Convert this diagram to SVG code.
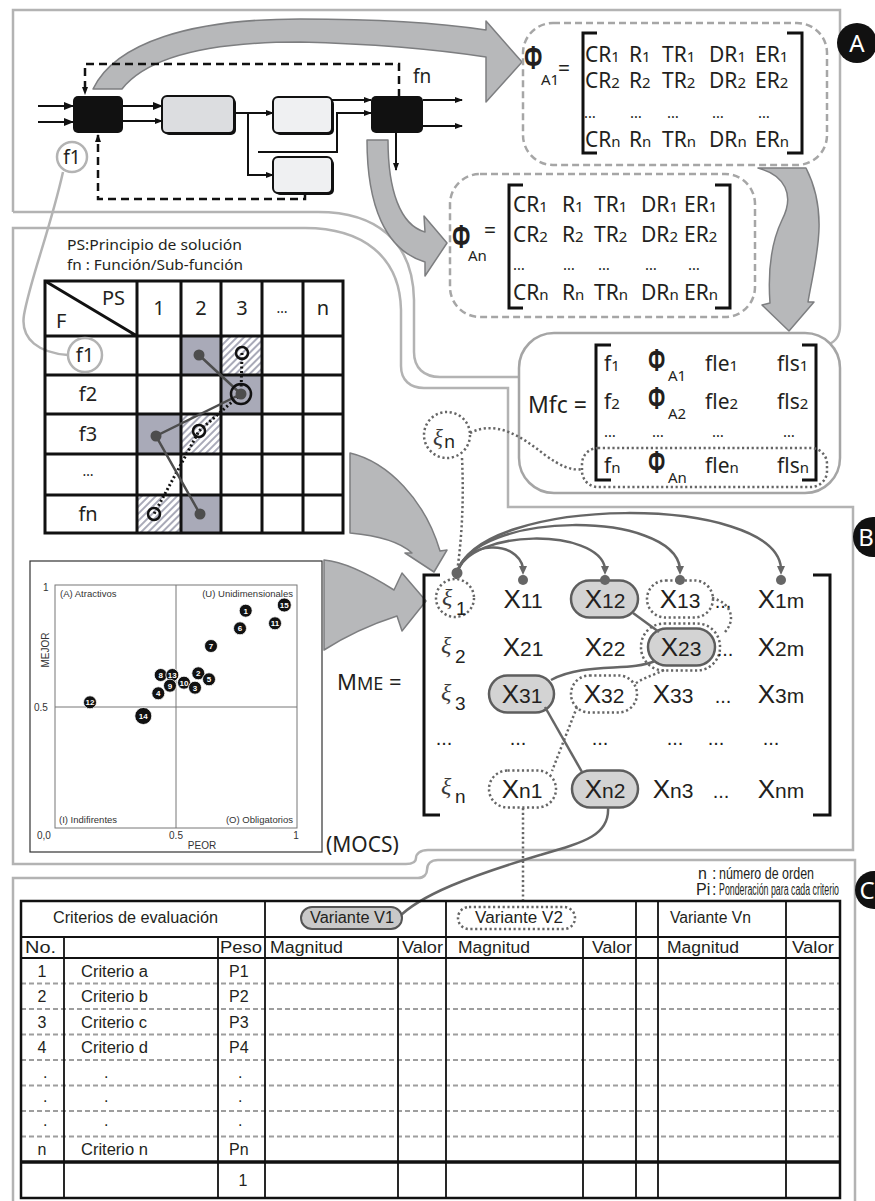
<svg xmlns="http://www.w3.org/2000/svg" width="875" height="1201" viewBox="0 0 875 1201">
<defs>
<style>
.frame{fill:none;stroke:#b3b3b3;stroke-width:2.5}
.dbox{fill:#fff;stroke:#a6a6a6;stroke-width:2.5;stroke-dasharray:7 4}
.dot{fill:none;stroke:#666;stroke-width:2.5;stroke-dasharray:2.2 2.6}
.big{fill:#b7b8ba;stroke:#7d7e80;stroke-width:1.5;stroke-linejoin:round}
.t{font-family:'Noto Sans','Open Sans',sans-serif;fill:#231f20}
.a{font-family:'Liberation Sans',Arial,sans-serif;fill:#231f20}
.s{font-family:'Liberation Serif','DejaVu Serif',serif;font-style:italic;fill:#3a3a3a}
.br{fill:none;stroke:#111;stroke-width:3}
.ln{fill:none;stroke:#111;stroke-width:2}
.ds{fill:none;stroke:#111;stroke-width:2.5;stroke-dasharray:8 5}
.pill{fill:#d3d3d3;stroke:#5e5e5e;stroke-width:2.5}
.grid{stroke:#111;stroke-width:3;fill:none}
.tb{font-family:'Liberation Sans',Arial,sans-serif;fill:#231f20;font-size:16px}
.sp{font-family:'Liberation Sans',Arial,sans-serif;fill:#333;font-size:9.5px}
.pt circle{fill:#111;stroke:#fff;stroke-width:0.8}
.pt text{font-family:'Liberation Sans',Arial,sans-serif;font-size:8px;font-weight:bold;fill:#fff;text-anchor:middle}
.lab circle{fill:#111}
.lab text{font-family:'Noto Sans',sans-serif;font-size:24px;fill:#fff;text-anchor:middle}
.m{font-size:21px}
.sub{font-size:15px}
</style>
<marker id="ah" viewBox="0 0 10 8" refX="9" refY="4" markerWidth="10" markerHeight="8" markerUnits="userSpaceOnUse" orient="auto"><path d="M0,0 L10,4 L0,8 Z" fill="#111"/></marker>
<marker id="as" viewBox="0 0 8 6" refX="7" refY="3" markerWidth="8" markerHeight="6" markerUnits="userSpaceOnUse" orient="auto"><path d="M0,0 L8,3 L0,6 Z" fill="#111"/></marker>
<pattern id="hatch" width="5" height="5" patternUnits="userSpaceOnUse" patternTransform="rotate(45)"><rect width="5" height="5" fill="#fff"/><line x1="1" y1="0" x2="1" y2="5" stroke="#a9aab8" stroke-width="2"/></pattern>
</defs>
<rect width="875" height="1201" fill="#fff"/>

<!-- panel frames -->
<g id="frames">
<path class="frame" d="M13,212 L13,10 L840,10 L840,325 C840,336 836,341 828,345"/>
<path class="frame" d="M13,212 L318,212 C375,212 413,240 414,300 L414,352 C414,368 424,377 440,377 L519,377"/>
<path class="frame" d="M13,864 L13,228 L305,228 C362,228 400,256 401,310 L401,366 C401,380 410,388 424,388 L508,388 L508,507 L853,507 L853,850 L428,850 C420,850 416,854 416,858 C416,862 412,864 406,864 Z"/>
<path class="frame" d="M13,1201 L13,878 L418,878 C424,878 427,874 427,870 C427,864 431,860 438,860 L855,860 L855,1201"/>
</g>

<!-- big gray arrows -->
<g id="bigarrows">
<path class="big" d="M93,89 C115,43 190,19 300,19 C380,19 440,23 486,30 L486,21 L522,62 L486,102 L486,57 C440,50 380,44 300,42 C200,42 145,60 122,89 Z"/>
<path class="big" d="M367,140 C367,205 385,250 425,262 L425,276 L447,243 L424,216 L425,232 C400,225 388,190 388,140 Z"/>
<path class="big" d="M758,168 C785,175 795,195 782,220 C770,245 768,275 770,303 L762,305 L789,331 L814,302 L808,302 C815,260 830,215 806,168 Z"/>
<path class="big" d="M350,453 C388,462 425,500 440,551 L447,550 L434,572 L405,553 L412,553 C398,540 372,535 350,533 Z"/>
<path class="big" d="M324,560 C347,562 372,576 394,590 L402,573 L426,601 L402,631 L397,616 C372,624 346,636 324,650 Z"/>
</g>

<!-- block diagram -->
<g id="blockdiagram">
<g id="blk1"><rect x="73" y="96" width="50" height="37" rx="5" fill="#111"/></g>
<g id="blk2"><rect x="164" y="98" width="72" height="37" rx="5" fill="#111"/><rect x="162" y="96" width="72" height="37" rx="5" fill="#dcdde0" stroke="#111" stroke-width="2"/></g>
<g id="blk3"><rect x="275" y="99" width="59" height="36" rx="5" fill="#111"/><rect x="273" y="97" width="59" height="36" rx="5" fill="#eff0f2" stroke="#111" stroke-width="2"/></g>
<g id="blk5"><rect x="275" y="159" width="59" height="36" rx="5" fill="#111"/><rect x="273" y="157" width="59" height="36" rx="5" fill="#eff0f2" stroke="#111" stroke-width="2"/></g>
<g id="blk4"><rect x="371" y="96" width="52" height="37" rx="5" fill="#111"/></g>
<text class="t" x="413" y="83" font-size="19">fn</text>
</g>
<g id="bd-connectors">
<path class="ln" stroke-width="3" d="M38,106 H73" marker-end="url(#ah)"/>
<path class="ln" stroke-width="3" d="M38,122 H73" marker-end="url(#ah)"/>
<path class="ln" stroke-width="3" d="M123,106 H162" marker-end="url(#ah)"/>
<path class="ln" d="M123,121 H162" marker-end="url(#as)"/>
<path class="ln" d="M234,113 H273" marker-end="url(#as)"/>
<path class="ln" d="M248,113 V175 H273" marker-end="url(#as)"/>
<path class="ln" d="M332,100 H371" marker-end="url(#as)"/>
<path class="ln" stroke-width="2.5" d="M258,152 H337 V113 H371" marker-end="url(#as)"/>
<path class="ln" d="M423,100 H462" marker-end="url(#as)"/>
<path class="ln" d="M423,126 H462" marker-end="url(#as)"/>
<path class="ln" d="M396,133 V170" marker-end="url(#as)"/>
<path class="ds" d="M399,97 V64 H85 V94" marker-end="url(#as)"/>
<path class="ds" d="M305,193 V199 H98 V135" marker-end="url(#as)"/>
</g>

<!-- f1 link -->
<g id="f1link">
<circle cx="72" cy="157" r="15" fill="#fff" stroke="#b3b3b3" stroke-width="2.5"/>
<text class="t" x="72" y="164" font-size="19" text-anchor="middle">f1</text>
<path class="frame" d="M63,172 C50,230 30,280 24,315 C20,340 40,353 68,355"/>
</g>

<!-- phi A1 -->
<g id="phiA1">
<rect class="dbox" x="523" y="23" width="304" height="142" rx="30"/>
<text class="t" transform="translate(524,69) scale(0.62,1)" font-size="33" font-weight="bold">Φ</text>
<text class="t" x="541" y="85" font-size="15">A1</text>
<text class="t" x="558" y="76" font-size="21">=</text>
<path class="br" d="M597,33 H583 V153 H597"/>
<path class="br" d="M787,33 H802 V153 H787"/>
<g class="t m">
<text x="585" y="62">CR<tspan class="sub">1</tspan></text><text x="629" y="62">R<tspan class="sub">1</tspan></text><text x="662" y="62">TR<tspan class="sub">1</tspan></text><text x="709" y="62">DR<tspan class="sub">1</tspan></text><text x="755" y="62">ER<tspan class="sub">1</tspan></text>
<text x="585" y="88">CR<tspan class="sub">2</tspan></text><text x="629" y="88">R<tspan class="sub">2</tspan></text><text x="662" y="88">TR<tspan class="sub">2</tspan></text><text x="709" y="88">DR<tspan class="sub">2</tspan></text><text x="755" y="88">ER<tspan class="sub">2</tspan></text>
<text x="584" y="118" font-size="15">…</text><text x="630" y="118" font-size="15">…</text><text x="667" y="118" font-size="15">…</text><text x="712" y="118" font-size="15">…</text><text x="758" y="118" font-size="15">…</text>
<text x="585" y="147">CR<tspan class="sub">n</tspan></text><text x="629" y="147">R<tspan class="sub">n</tspan></text><text x="662" y="147">TR<tspan class="sub">n</tspan></text><text x="709" y="147">DR<tspan class="sub">n</tspan></text><text x="755" y="147">ER<tspan class="sub">n</tspan></text>
</g>
</g>

<!-- phi An -->
<g id="phiAn">
<rect class="dbox" x="450" y="174" width="305" height="143" rx="30"/>
<text class="t" transform="translate(452,248) scale(0.62,1)" font-size="33" font-weight="bold">Φ</text>
<text class="t" x="468" y="261" font-size="15">An</text>
<text class="t" x="484" y="238" font-size="21">=</text>
<path class="br" d="M523,185 H509 V308 H523"/>
<path class="br" d="M715,185 H730 V308 H715"/>
<g class="t m">
<text x="513" y="212">CR<tspan class="sub">1</tspan></text><text x="562" y="212">R<tspan class="sub">1</tspan></text><text x="594" y="212">TR<tspan class="sub">1</tspan></text><text x="641" y="212">DR<tspan class="sub">1</tspan></text><text x="684" y="212">ER<tspan class="sub">1</tspan></text>
<text x="513" y="242">CR<tspan class="sub">2</tspan></text><text x="562" y="242">R<tspan class="sub">2</tspan></text><text x="594" y="242">TR<tspan class="sub">2</tspan></text><text x="641" y="242">DR<tspan class="sub">2</tspan></text><text x="684" y="242">ER<tspan class="sub">2</tspan></text>
<text x="513" y="270" font-size="15">…</text><text x="563" y="270" font-size="15">…</text><text x="598" y="270" font-size="15">…</text><text x="645" y="270" font-size="15">…</text><text x="688" y="270" font-size="15">…</text>
<text x="513" y="300">CR<tspan class="sub">n</tspan></text><text x="562" y="300">R<tspan class="sub">n</tspan></text><text x="594" y="300">TR<tspan class="sub">n</tspan></text><text x="641" y="300">DR<tspan class="sub">n</tspan></text><text x="684" y="300">ER<tspan class="sub">n</tspan></text>
</g>
</g>

<!-- Mfc -->
<g id="mfc">
<rect x="519" y="333" width="321" height="160" rx="35" fill="#fff" stroke="#a5a5a5" stroke-width="2.5"/>
<text class="t" x="528" y="413" font-size="23">Mfc =</text>
<path class="br" d="M611,345 H596 V480 H611"/>
<path class="br" d="M802,345 H816 V480 H802"/>
<rect class="dot" x="582" y="448" width="245" height="39" rx="16"/>
<g class="t m">
<text x="604" y="371">f<tspan class="sub">1</tspan></text><text x="705" y="371">fle<tspan class="sub">1</tspan></text><text x="777" y="371">fls<tspan class="sub">1</tspan></text>
<text x="604" y="409">f<tspan class="sub">2</tspan></text><text x="705" y="409">fle<tspan class="sub">2</tspan></text><text x="777" y="409">fls<tspan class="sub">2</tspan></text>
<text x="604" y="437" font-size="15">…</text><text x="652" y="437" font-size="15">…</text><text x="712" y="437" font-size="15">…</text><text x="783" y="437" font-size="15">…</text>
<text x="604" y="473">f<tspan class="sub">n</tspan></text><text x="705" y="473">fle<tspan class="sub">n</tspan></text><text x="777" y="473">fls<tspan class="sub">n</tspan></text>
</g>
<text class="t" transform="translate(648,371) scale(0.62,1)" font-size="31" font-weight="bold">Φ</text>
<text class="t" x="668" y="381" font-size="15">A1</text>
<text class="t" transform="translate(648,409) scale(0.62,1)" font-size="31" font-weight="bold">Φ</text>
<text class="t" x="668" y="419" font-size="15">A2</text>
<text class="t" transform="translate(648,473) scale(0.62,1)" font-size="31" font-weight="bold">Φ</text>
<text class="t" x="668" y="483" font-size="15">An</text>
</g>

<!-- xi n -->
<g id="xin">
<circle class="dot" cx="447" cy="435" r="23"/>
<text class="s" x="433" y="445" font-size="23">ξ</text>
<text class="t" x="444" y="448" font-size="18">n</text>
</g>

<!-- PS table -->
<g id="pstable">
<text class="t" x="67" y="250" font-size="15" textLength="175" lengthAdjust="spacingAndGlyphs">PS:Principio de solución</text>
<text class="t" x="67" y="270" font-size="15" textLength="176" lengthAdjust="spacingAndGlyphs">fn : Función/Sub-función</text>
<rect x="181" y="336" width="40" height="39" fill="#a9aab8"/>
<rect x="221" y="375" width="41" height="39" fill="#a9aab8"/>
<rect x="137" y="414" width="44" height="40" fill="#a9aab8"/>
<rect x="181" y="495" width="40" height="38" fill="#a9aab8"/>
<rect x="221" y="336" width="41" height="39" fill="url(#hatch)"/>
<rect x="181" y="414" width="40" height="40" fill="url(#hatch)"/>
<rect x="137" y="495" width="44" height="38" fill="url(#hatch)"/>
<rect class="grid" x="45" y="281" width="298" height="252"/>
<path class="grid" d="M137,281 V533 M181,281 V533 M221,281 V533 M262,281 V533 M303,281 V533 M45,336 H343 M45,375 H343 M45,414 H343 M45,454 H343 M45,495 H343 M45,281 L137,336"/>
<g class="t" font-size="20">
<text x="102" y="305">PS</text><text x="56" y="328">F</text>
<text x="159" y="315" text-anchor="middle">1</text><text x="201" y="315" text-anchor="middle">2</text><text x="242" y="315" text-anchor="middle">3</text><text x="282" y="313" text-anchor="middle" font-size="14">…</text><text x="323" y="315" text-anchor="middle">n</text>
<text x="85" y="362" text-anchor="middle">f1</text><text x="88" y="401" text-anchor="middle">f2</text><text x="88" y="441" text-anchor="middle">f3</text><text x="88" y="476" text-anchor="middle" font-size="14">…</text><text x="88" y="521" text-anchor="middle">fn</text>
</g>
<circle cx="85" cy="355" r="17" fill="none" stroke="#b3b3b3" stroke-width="2.5"/>
<path d="M242,353 L241,394 L199,431 L154,514" fill="none" stroke="#111" stroke-width="3" stroke-dasharray="2 2.5"/>
<path d="M199,355 L241,394 L156,436 L200,514" fill="none" stroke="#4d4d4d" stroke-width="2.5"/>
<g fill="#4d4d4d"><circle cx="199" cy="355" r="5.5"/><circle cx="241" cy="394" r="5.5"/><circle cx="156" cy="436" r="5.5"/><circle cx="200" cy="514" r="5.5"/></g>
<g fill="none" stroke="#111" stroke-width="2.5"><circle cx="242" cy="353" r="6"/><circle cx="241" cy="394" r="10"/><circle cx="199" cy="431" r="6"/><circle cx="154" cy="514" r="6"/></g>
</g>

<!-- scatter -->
<g id="scatter">
<rect x="30" y="561" width="292" height="291" fill="#fff" stroke="#333" stroke-width="1.2"/>
<rect x="55" y="585" width="242" height="243" fill="none" stroke="#777" stroke-width="1"/>
<path d="M176,585 V828 M55,707 H297" stroke="#777" stroke-width="1"/>
<g class="sp">
<text x="60" y="597">(A) Atractivos</text>
<text x="293" y="597" text-anchor="end">(U) Unidimensionales</text>
<text x="59" y="823">(I) Indifirentes</text>
<text x="293" y="823" text-anchor="end">(O) Obligatorios</text>
<text x="43" y="591" font-size="10">1</text>
<text x="34" y="711" font-size="10">0.5</text>
<text x="37" y="839" font-size="10">0,0</text>
<text x="176" y="839" font-size="10" text-anchor="middle">0.5</text>
<text x="296" y="839" font-size="10" text-anchor="middle">1</text>
<text x="202" y="849" font-size="10" text-anchor="middle">PEOR</text>
<text transform="translate(49,650) rotate(-90)" font-size="10" text-anchor="middle">MEJOR</text>
</g>
<g class="pt">
<circle cx="245.7" cy="610.7" r="6.5"/><text x="245.7" y="613.5">1</text>
<circle cx="284.3" cy="605" r="7"/><text x="284.3" y="607.8">15</text>
<circle cx="240" cy="628.3" r="6.5"/><text x="240" y="631.1">6</text>
<circle cx="275" cy="623.3" r="6.5"/><text x="275" y="626.1">11</text>
<circle cx="211" cy="646" r="6.5"/><text x="211" y="648.8">7</text>
<circle cx="158.3" cy="693.3" r="6.5"/><text x="158.3" y="696.1">4</text>
<circle cx="160.7" cy="675" r="6.5"/><text x="160.7" y="677.8">8</text>
<circle cx="172.3" cy="675" r="6.5"/><text x="172.3" y="677.8">13</text>
<circle cx="170" cy="685.7" r="6.5"/><text x="170" y="688.5">9</text>
<circle cx="198.3" cy="673.3" r="6.5"/><text x="198.3" y="676.1">2</text>
<circle cx="184" cy="682.7" r="6.5"/><text x="184" y="685.5">10</text>
<circle cx="195" cy="687.7" r="6.5"/><text x="195" y="690.5">3</text>
<circle cx="209" cy="679.3" r="6.5"/><text x="209" y="682.1">5</text>
<circle cx="90" cy="702.3" r="6.5"/><text x="90" y="705.1">12</text>
<circle cx="143.3" cy="716" r="8.5"/><text x="143.3" y="718.8">14</text>
</g>
<text class="t" x="326" y="852" font-size="21">(MOCS)</text>
</g>

<!-- MME matrix -->
<g id="mme">
<text class="t" x="337" y="690" font-size="22">M<tspan font-size="18">ME</tspan> =</text>
<path class="br" d="M440,575 H424 V815 H440"/>
<path class="br" d="M813,575 H830 V815 H813"/>
<circle class="dot" cx="455" cy="598" r="19"/>
<rect class="pill" x="571" y="580.5" width="67" height="37" rx="18.5"/>
<rect class="dot" x="647" y="580.5" width="66" height="37" rx="18.5"/>
<rect class="pill" x="648" y="628.5" width="67" height="37" rx="18.5"/>
<rect class="dot" x="641" y="623.5" width="79" height="47" rx="23"/>
<rect class="pill" x="489" y="675.5" width="65" height="37" rx="18.5"/>
<rect class="dot" x="571" y="675.5" width="66" height="37" rx="18.5"/>
<rect class="dot" x="489" y="770.5" width="67" height="37" rx="18.5"/>
<rect class="pill" x="572" y="770.5" width="66" height="37" rx="18.5"/>
<g class="a" font-size="26" text-anchor="middle">
<text x="523" y="608">X<tspan font-size="21">11</tspan></text><text x="605" y="608">X<tspan font-size="21">12</tspan></text><text x="680" y="608">X<tspan font-size="21">13</tspan></text><text x="781" y="608">X<tspan font-size="21">1m</tspan></text>
<text x="523" y="656">X<tspan font-size="21">21</tspan></text><text x="605" y="656">X<tspan font-size="21">22</tspan></text><text x="681" y="656">X<tspan font-size="21">23</tspan></text><text x="781" y="656">X<tspan font-size="21">2m</tspan></text>
<text x="522" y="703">X<tspan font-size="21">31</tspan></text><text x="604" y="703">X<tspan font-size="21">32</tspan></text><text x="673" y="703">X<tspan font-size="21">33</tspan></text><text x="781" y="703">X<tspan font-size="21">3m</tspan></text>
<text x="522" y="798">X<tspan font-size="21">n1</tspan></text><text x="605" y="798">X<tspan font-size="21">n2</tspan></text><text x="673" y="798">X<tspan font-size="21">n3</tspan></text><text x="781" y="798">X<tspan font-size="21">nm</tspan></text>
<g font-size="20"><text x="723" y="608">...</text><text x="725" y="656">...</text><text x="723" y="703">...</text><text x="721" y="798">...</text>
<text x="444" y="745">...</text><text x="518" y="745">...</text><text x="600" y="745">...</text><text x="675" y="745">...</text><text x="716" y="745">...</text><text x="771" y="745">...</text></g>
</g>
<g class="s" font-size="24"><text x="442" y="605">ξ</text><text x="441" y="653">ξ</text><text x="441" y="700">ξ</text><text x="441" y="794">ξ</text></g>
<g class="a" font-size="19"><text x="456" y="615">1</text><text x="455" y="663">2</text><text x="455" y="710">3</text><text x="455" y="803">n</text></g>
</g>

<!-- MME connectors -->
<g id="mme-connectors">
<g fill="none" stroke="#666" stroke-width="2.5">
<path d="M457,573 C465,540 518,540 523,568"/>
<path d="M457,573 C470,528 598,528 605,568"/>
<path d="M457,573 C475,510 672,510 680,568"/>
<path d="M457,573 C480,494 775,494 781,568"/>
<path d="M633,613 L659,632"/>
<path d="M655,661 C630,672 585,662 551,680"/>
<path d="M545,707 L582,772"/>
<path d="M608,807 C610,835 585,842 540,855 C470,876 420,895 398,918"/>
</g>
<g fill="#666">
<path d="M519,566 L527,566 L523,575 Z"/><path d="M601,566 L609,566 L605,575 Z"/><path d="M676,566 L684,566 L680,575 Z"/><path d="M777,566 L785,566 L781,575 Z"/>
<circle cx="457" cy="573" r="5.5"/><circle cx="523" cy="580" r="5"/><circle cx="605" cy="580" r="5"/><circle cx="680" cy="580" r="5"/><circle cx="781" cy="580" r="5"/>
</g>
<path class="dot" d="M712,598 C732,603 736,620 725,632"/>
<path class="dot" d="M664,670 C652,676 642,678 635,684"/>
<path class="dot" d="M577,707 L552,771"/>
<path class="dot" d="M523,808 V904"/>
<path class="dot" d="M462,458 C464,500 462,540 456,579"/>
<path class="dot" d="M470,433 C495,420 520,435 545,455 C560,466 572,471 582,469"/>
</g>

<!-- evaluation table -->
<g id="evaltable">
<text class="tb" x="698" y="879" font-size="13">n</text><text class="tb" x="712" y="879" font-size="13">:</text><text class="tb" x="719" y="879" font-size="13" textLength="95" lengthAdjust="spacingAndGlyphs">número de orden</text>
<text class="tb" x="696" y="895" font-size="13">Pi</text><text class="tb" x="712" y="895" font-size="13">:</text><text class="tb" x="719" y="895" font-size="13" textLength="120" lengthAdjust="spacingAndGlyphs">Ponderación para cada criterio</text>
<rect x="301" y="907" width="101" height="22" rx="11" fill="#c9c9c9" stroke="#555" stroke-width="2"/>
<rect class="dot" x="458" y="907" width="117" height="22" rx="11" stroke-width="2"/>
<g fill="none" stroke="#9e9e9e" stroke-width="2" stroke-dasharray="5 3">
<path d="M21,983.5 H840 M21,1009 H840 M21,1034.5 H840 M21,1060 H840 M21,1085.5 H840 M21,1111 H840 M21,1136.5 H840"/>
</g>
<g fill="none" stroke="#111">
<rect x="21" y="901" width="819" height="297" stroke-width="2.5"/>
<path stroke-width="1.8" d="M21,937 H840 M21,958 H840 M265,901 V1198 M446,901 V1198 M636,901 V1198 M658,901 V1198 M786,901 V1198 M64,937 V1198 M218,937 V1198 M398,937 V1198 M583,937 V1198"/>
<path stroke-width="3.5" d="M21,1162 H840"/>
</g>
<text class="tb" x="53" y="923" textLength="165" lengthAdjust="spacingAndGlyphs">Criterios de evaluación</text>
<text class="tb" x="310" y="923" textLength="84" lengthAdjust="spacingAndGlyphs">Variante V1</text>
<text class="tb" x="475" y="923" textLength="88" lengthAdjust="spacingAndGlyphs">Variante V2</text>
<text class="tb" x="670" y="923" textLength="81" lengthAdjust="spacingAndGlyphs">Variante Vn</text>
<text class="tb" x="25" y="953" textLength="31" lengthAdjust="spacingAndGlyphs">No.</text>
<text class="tb" x="220" y="953" textLength="42" lengthAdjust="spacingAndGlyphs">Peso</text>
<text class="tb" x="270" y="953" textLength="73" lengthAdjust="spacingAndGlyphs">Magnitud</text>
<text class="tb" x="402" y="953" textLength="41" lengthAdjust="spacingAndGlyphs">Valor</text>
<text class="tb" x="458" y="953" textLength="72" lengthAdjust="spacingAndGlyphs">Magnitud</text>
<text class="tb" x="592" y="953" textLength="40" lengthAdjust="spacingAndGlyphs">Valor</text>
<text class="tb" x="667" y="953" textLength="72" lengthAdjust="spacingAndGlyphs">Magnitud</text>
<text class="tb" x="792" y="953" textLength="42" lengthAdjust="spacingAndGlyphs">Valor</text>
<g class="tb">
<text x="42" y="977" text-anchor="middle">1</text><text x="81" y="977" textLength="67" lengthAdjust="spacingAndGlyphs">Criterio a</text><text x="229" y="977">P1</text>
<text x="42" y="1002" text-anchor="middle">2</text><text x="81" y="1002" textLength="67" lengthAdjust="spacingAndGlyphs">Criterio b</text><text x="229" y="1002">P2</text>
<text x="42" y="1028" text-anchor="middle">3</text><text x="81" y="1028" textLength="66" lengthAdjust="spacingAndGlyphs">Criterio c</text><text x="229" y="1028">P3</text>
<text x="42" y="1053" text-anchor="middle">4</text><text x="81" y="1053" textLength="67" lengthAdjust="spacingAndGlyphs">Criterio d</text><text x="229" y="1053">P4</text>
<text x="43" y="1078">.</text><text x="104" y="1078">.</text><text x="238" y="1078">.</text>
<text x="43" y="1102">.</text><text x="104" y="1102">.</text><text x="238" y="1102">.</text>
<text x="43" y="1126">.</text><text x="104" y="1126">.</text><text x="238" y="1126">.</text>
<text x="42" y="1155" text-anchor="middle">n</text><text x="81" y="1155" textLength="67" lengthAdjust="spacingAndGlyphs">Criterio n</text><text x="229" y="1155">Pn</text>
<text x="243" y="1186" text-anchor="middle">1</text>
</g>
</g>

<!-- panel labels -->
<g id="labels" class="lab">
<circle cx="857" cy="43" r="20"/><text x="857" y="52">A</text>
<circle cx="873" cy="537" r="20"/><text x="866" y="546">B</text>
<circle cx="874" cy="890" r="19"/><text x="867" y="899">C</text>
</g>
</svg>
